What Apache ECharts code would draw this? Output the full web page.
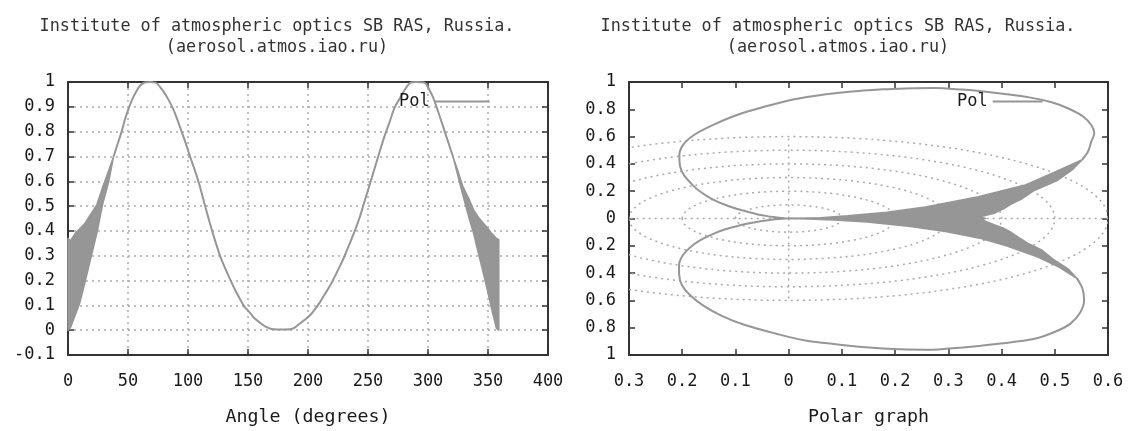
<!DOCTYPE html>
<html>
<head>
<meta charset="utf-8">
<script src="https://cdn.jsdelivr.net/npm/echarts@6/dist/echarts.min.js"></script>
<style>
  html, body { margin: 0; padding: 0; background: #fff; }
  #chart { width: 1132px; height: 431px; }
</style>
</head>
<body>
<div id="chart"></div>
<script>
// smooth part of the Pol curve
const mainAngle = [38, 41, 44.7, 47.5, 50.3, 53.5, 57, 60, 63, 66, 68.5, 71, 74, 77, 79.4, 83, 87.8, 91,
  94.7, 98, 101.7, 106, 110, 114, 118.3, 122, 126.7, 130, 135, 139, 143.3, 147, 151.7, 155, 160, 165,
  169.7, 178, 186.4, 193.3, 201.7, 206, 210, 214, 218.3, 222.5, 226.7, 231, 235, 239, 243.3, 247.5,
  251.7, 256, 260, 264, 268.3, 272, 276.7, 281, 285, 287.5, 290, 293.5, 297.5, 301, 304.4, 308.5,
  312.8, 317, 321];
const mainPol = [0.70, 0.745, 0.80, 0.85, 0.89, 0.93, 0.963, 0.985, 0.996, 0.999, 1.0, 0.999, 0.995, 0.978,
  0.963, 0.935, 0.89, 0.85, 0.80, 0.755, 0.70, 0.64, 0.578, 0.505, 0.43, 0.37, 0.30, 0.26, 0.206, 0.165,
  0.126, 0.095, 0.07, 0.05, 0.03, 0.013, 0.005, 0.003, 0.005, 0.027, 0.06, 0.085, 0.113, 0.145, 0.179,
  0.218, 0.259, 0.305, 0.352, 0.40, 0.458, 0.525, 0.591, 0.66, 0.724, 0.785, 0.843, 0.895, 0.936, 0.972,
  0.996, 0.999, 1.0, 0.999, 0.996, 0.97, 0.936, 0.88, 0.817, 0.755, 0.697];

// noisy bands near 0 and 360 degrees (upper / lower envelope)
const headAngle = [0, 2, 6, 10, 14, 18, 24, 29, 34, 38];
const headHigh = [0.37, 0.36, 0.39, 0.41, 0.43, 0.46, 0.505, 0.578, 0.644, 0.70];
const headLow = [0, 0.01, 0.06, 0.113, 0.19, 0.27, 0.39, 0.51, 0.60, 0.70];
const tailAngle = [321, 325, 329, 334, 338, 342, 346, 350, 353, 357, 359];
const tailHigh = [0.697, 0.64, 0.58, 0.53, 0.485, 0.455, 0.432, 0.41, 0.39, 0.37, 0.365];
const tailLow = [0.697, 0.62, 0.545, 0.455, 0.39, 0.31, 0.232, 0.15, 0.086, 0.007, 0];

// polar grid of the right plot
const gridRadii = [0.1, 0.2, 0.3, 0.4, 0.5, 0.6];
const gridSpokes = [0, 90, 180, 270];

const bands = [
  { angle: headAngle, high: headHigh, low: headLow },
  { angle: tailAngle, high: tailHigh, low: tailLow }
];

const FONT = "'DejaVu Sans Mono', monospace";
const INK = '#1a1a1a';
const FRAME = '#333';
const CURVE = '#969696';
const titleText = 'Institute of atmospheric optics SB RAS, Russia.\n(aerosol.atmos.iao.ru)';

function toXY(deg, r) {
  const t = deg * Math.PI / 180;
  return [r * Math.cos(t), r * Math.sin(t)];
}

function fmt(v) {
  return String(parseFloat(v.toFixed(2)));
}
function fmtAbs(v) {
  return String(parseFloat(Math.abs(v).toFixed(2)));
}

function bandRender(polar) {
  return function (params, api) {
    const b = bands[params.dataIndex];
    const pts = [];
    const conv = (a, r) => polar ? api.coord(toXY(a, r)) : api.coord([a, r]);
    for (let i = 0; i < b.angle.length; i++) pts.push(conv(b.angle[i], b.high[i]));
    for (let i = b.angle.length - 1; i >= 0; i--) pts.push(conv(b.angle[i], b.low[i]));
    return {
      type: 'polygon',
      shape: { points: pts },
      style: { fill: CURVE, stroke: CURVE, lineWidth: 1.5, lineJoin: 'round' }
    };
  };
}

function clipOf(params) {
  const c = params.coordSys;
  return { type: 'rect', shape: { x: c.x, y: c.y, width: c.width, height: c.height } };
}

const tickLabel = { color: INK, fontFamily: FONT, fontSize: 17 };

function mainAxis(extra) {
  return Object.assign({
    type: 'value',
    axisLine: { show: true, onZero: false, lineStyle: { color: FRAME, width: 2 } },
    axisTick: { show: true, inside: true, length: 6, lineStyle: { color: FRAME, width: 1.5 } },
    splitLine: { show: false }
  }, extra);
}
function mirrorAxis(extra) {
  return Object.assign({
    type: 'value',
    axisLine: { show: true, onZero: false, lineStyle: { color: FRAME, width: 2 } },
    axisTick: { show: true, inside: true, length: 6, lineStyle: { color: FRAME, width: 1.5 } },
    axisLabel: { show: false },
    splitLine: { show: false }
  }, extra);
}
const dotted = { show: true, lineStyle: { color: '#aaa', type: [2, 4], width: 1.5 } };
const nameStyle = { color: INK, fontFamily: FONT, fontSize: 18.3 };
const titleStyle = { fontFamily: FONT, fontSize: 16.8, fontWeight: 'normal', color: '#333', lineHeight: 21 };
const legendText = { fontFamily: FONT, fontSize: 17, color: INK };

const myChart = echarts.init(document.getElementById('chart'), null, { renderer: 'canvas' });

const option = {
  animation: false,
  backgroundColor: '#fff',
  title: [
    { text: titleText, left: 272, top: 11, textAlign: 'center', textStyle: titleStyle },
    { text: titleText, left: 833, top: 11, textAlign: 'center', textStyle: titleStyle }
  ],
  legend: [
    {
      left: 394, top: 88, align: 'right', itemWidth: 55, itemHeight: 2, itemGap: 4, selectedMode: false,
      data: [{ name: 'Pol', icon: 'rect' }],
      textStyle: legendText
    },
    {
      left: 952, top: 88, align: 'right', itemWidth: 50, itemHeight: 2, itemGap: 4, selectedMode: false,
      data: [{ name: 'Pol', icon: 'rect' }],
      textStyle: legendText
    }
  ],
  grid: [
    { left: 68, top: 82, width: 480, height: 276 },
    { left: 629, top: 82, width: 479, height: 276 }
  ],
  xAxis: [
    mainAxis({
      gridIndex: 0, position: 'bottom', min: 0, max: 400, interval: 50,
      axisLabel: Object.assign({ margin: 18 }, tickLabel),
      splitLine: dotted,
      name: 'Angle (degrees)', nameLocation: 'middle', nameGap: 53, nameTextStyle: nameStyle
    }),
    mirrorAxis({ gridIndex: 0, position: 'top', min: 0, max: 400, interval: 50 }),
    mainAxis({
      gridIndex: 1, position: 'bottom', min: -0.3, max: 0.6, interval: 0.1,
      axisLabel: Object.assign({ margin: 18, formatter: fmtAbs }, tickLabel),
      name: 'Polar graph', nameLocation: 'middle', nameGap: 53, nameTextStyle: nameStyle
    }),
    mirrorAxis({ gridIndex: 1, position: 'top', min: -0.3, max: 0.6, interval: 0.1 })
  ],
  yAxis: [
    mainAxis({
      gridIndex: 0, position: 'left', min: -0.1, max: 1, interval: 0.1,
      axisLabel: Object.assign({ margin: 13, formatter: fmt }, tickLabel),
      splitLine: dotted
    }),
    mirrorAxis({ gridIndex: 0, position: 'right', min: -0.1, max: 1, interval: 0.1 }),
    mainAxis({
      gridIndex: 1, position: 'left', min: -1, max: 1, interval: 0.2,
      axisLabel: Object.assign({ margin: 13, formatter: fmtAbs }, tickLabel)
    }),
    mirrorAxis({ gridIndex: 1, position: 'right', min: -1, max: 1, interval: 0.2 })
  ],
  series: [
    {
      name: 'polarGrid',
      type: 'custom',
      xAxisIndex: 2, yAxisIndex: 2,
      silent: true, z: 1,
      data: gridRadii,
      renderItem: function (params, api) {
        const r = api.value(0);
        const c = api.coord([0, 0]);
        const s = api.size([r, r]);
        return {
          type: 'ellipse',
          shape: { cx: c[0], cy: c[1], rx: s[0], ry: s[1] },
          style: { fill: 'none', stroke: '#aaa', lineWidth: 1.5, lineDash: [2, 4] },
          clipPath: clipOf(params)
        };
      }
    },
    {
      name: 'polarSpokes',
      type: 'custom',
      xAxisIndex: 2, yAxisIndex: 2,
      silent: true, z: 1,
      data: gridSpokes,
      renderItem: function (params, api) {
        const a = api.value(0);
        const p0 = api.coord([0, 0]);
        const p1 = api.coord(toXY(a, gridRadii[gridRadii.length - 1]));
        return {
          type: 'line',
          shape: { x1: p0[0], y1: p0[1], x2: p1[0], y2: p1[1] },
          style: { stroke: '#aaa', lineWidth: 1.5, lineDash: [2, 4] },
          clipPath: clipOf(params)
        };
      }
    },
    {
      name: 'Pol',
      type: 'line',
      xAxisIndex: 0, yAxisIndex: 0,
      showSymbol: false, symbol: 'none',
      smooth: 0.3,
      color: CURVE,
      lineStyle: { color: CURVE, width: 2 },
      data: mainAngle.map((a, i) => [a, mainPol[i]]),
      z: 3
    },
    {
      name: 'band',
      type: 'custom',
      xAxisIndex: 0, yAxisIndex: 0,
      silent: true, z: 3,
      data: [0, 1],
      renderItem: bandRender(false)
    },
    {
      name: 'Pol',
      type: 'line',
      xAxisIndex: 2, yAxisIndex: 2,
      showSymbol: false, symbol: 'none',
      smooth: 0.3,
      color: CURVE,
      lineStyle: { color: CURVE, width: 2 },
      data: mainAngle.map((a, i) => toXY(a, mainPol[i])),
      z: 3
    },
    {
      name: 'band',
      type: 'custom',
      xAxisIndex: 2, yAxisIndex: 2,
      silent: true, z: 3,
      data: [0, 1],
      renderItem: bandRender(true)
    }
  ]
};

myChart.setOption(option);
</script>
</body>
</html>
